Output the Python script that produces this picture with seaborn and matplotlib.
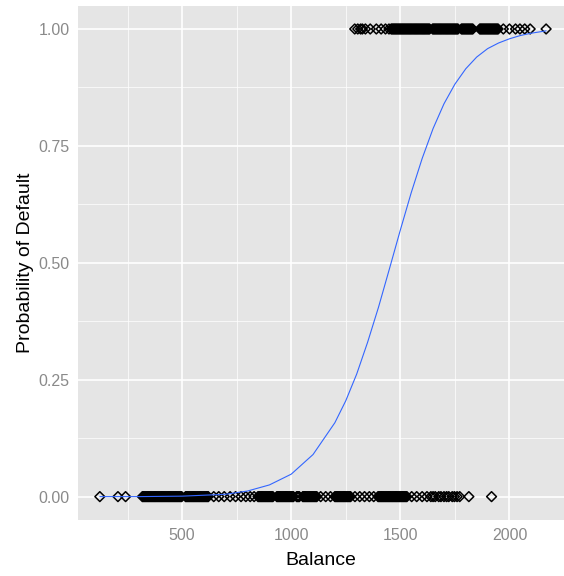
import matplotlib
matplotlib.use("Agg")
import matplotlib.pyplot as plt
import seaborn as sns
import pandas as pd

# Observed balances, split by default status (0 = no default, 1 = default)
balance_no_default = [
    123, 206, 241,
    318, 322, 326, 330, 334, 338, 342, 346, 350, 354, 358, 362, 366, 370, 374,
    378, 382, 386, 390, 394, 398, 402, 406, 410, 414, 418, 422, 426, 430, 434,
    438, 442, 446, 450, 454, 458, 462, 466, 470, 474, 478, 482, 486, 490, 494, 498,
    516, 520, 524, 528, 532, 536, 540, 544, 548, 552, 556, 560, 564, 568, 572,
    576, 580, 584, 588, 592, 596, 600, 604, 608, 612, 616, 620,
    645, 668, 693, 720, 745, 770, 792, 812, 830,
    848, 852, 856, 860, 864, 868, 872, 876, 880, 884, 888, 892, 896, 900, 904,
    908, 912, 916,
    934, 938, 942, 946, 950, 954, 958, 962, 966, 970, 974, 978, 982, 986, 990,
    994, 998, 1002, 1006, 1010,
    1025, 1029, 1033, 1037,
    1053, 1057, 1061, 1065, 1069, 1073, 1077, 1081, 1085, 1089, 1093, 1097, 1101,
    1105, 1109, 1113, 1117,
    1135, 1158, 1180,
    1200, 1204, 1208, 1212, 1216, 1220, 1224, 1228, 1232, 1236, 1240, 1244, 1248,
    1252, 1256, 1260, 1264, 1268, 1272,
    1292, 1314, 1336, 1358, 1378,
    1398, 1402, 1406, 1410, 1414, 1418, 1422, 1426, 1430, 1434, 1438, 1442, 1446,
    1450, 1454, 1458, 1462, 1466, 1470, 1474, 1478, 1482, 1486, 1490, 1494, 1498,
    1502, 1506, 1510, 1514, 1518, 1522, 1526, 1530,
    1552, 1575, 1600, 1622,
    1640, 1650, 1660, 1676, 1686, 1700, 1712, 1722, 1738, 1748, 1760, 1772,
    1814, 1918,
]
balance_default = [
    1291, 1305, 1318, 1326, 1340, 1362, 1390, 1412, 1432, 1448,
    1458, 1462, 1466, 1470, 1474, 1478, 1482, 1486, 1490, 1494, 1498, 1502, 1506,
    1510, 1514, 1518, 1522, 1526, 1530, 1534, 1538, 1542, 1546, 1550, 1554, 1558,
    1562, 1566, 1570, 1574, 1578, 1582, 1586, 1590, 1594, 1598, 1602, 1606, 1610,
    1614, 1618, 1622, 1626, 1630, 1634,
    1648, 1652, 1656, 1660, 1664, 1668, 1672, 1676, 1680, 1684, 1688, 1692, 1696,
    1700, 1704, 1708, 1712, 1716, 1720, 1724, 1728, 1732, 1736, 1740, 1744, 1748,
    1752, 1756, 1760, 1764,
    1780, 1784, 1788, 1792, 1796, 1800, 1804, 1808, 1812, 1816, 1820, 1824, 1828,
    1832,
    1864, 1868, 1872, 1876, 1880, 1884, 1888, 1892, 1896, 1900, 1904, 1908, 1912,
    1916, 1920, 1924, 1928, 1932, 1936, 1940, 1944, 1948,
    1972, 2000, 2028, 2048, 2070, 2095, 2168,
]

# Fitted logistic probability of default along the balance range
curve_balance = [123, 300, 500, 700, 800, 900, 1000, 1100, 1200, 1250, 1300, 1350,
                 1400, 1450, 1500, 1550, 1600, 1650, 1700, 1750, 1800, 1850, 1900,
                 1950, 2000, 2050, 2100, 2168]
curve_prob = [0.000, 0.000, 0.001, 0.005, 0.012, 0.025, 0.048, 0.090, 0.158, 0.205,
              0.262, 0.330, 0.405, 0.487, 0.570, 0.650, 0.723, 0.787, 0.840, 0.882,
              0.915, 0.940, 0.958, 0.970, 0.979, 0.986, 0.991, 0.996]

x_ticks = [500, 1000, 1500, 2000]
y_ticks = [0.00, 0.25, 0.50, 0.75, 1.00]
y_tick_labels = ["0.00", "0.25", "0.50", "0.75", "1.00"]

points = pd.DataFrame({
    "balance": balance_no_default + balance_default,
    "default": [0] * len(balance_no_default) + [1] * len(balance_default),
})
curve = pd.DataFrame({"balance": curve_balance, "prob": curve_prob})

sns.set_theme(style="darkgrid", rc={
    "axes.facecolor": "#E5E5E5",
    "figure.facecolor": "white",
    "grid.color": "white",
    "axes.edgecolor": "none",
})
plt.rcParams["font.family"] = ["Liberation Sans", "DejaVu Sans"]

fig = plt.figure(figsize=(5.64, 5.76), dpi=100)
ax = fig.add_axes([78 / 564, 56 / 576, 1 - 78 / 564, (520 - 5.6) / 576])

sns.scatterplot(data=points, x="balance", y="default", ax=ax, marker="D",
                s=25, facecolor="none", edgecolor="black", linewidth=1.1,
                zorder=3, legend=False)
sns.lineplot(data=curve, x="balance", y="prob", ax=ax, color="#3366FF",
             linewidth=0.8, zorder=4)

ax.set_xlim(23, 2222)
ax.set_ylim(-0.05, 1.05)
ax.set_xticks(x_ticks)
ax.set_xticklabels([str(t) for t in x_ticks])
ax.set_yticks(y_ticks)
ax.set_yticklabels(y_tick_labels)
ax.set_xticks([250, 750, 1250, 1750, 2250], minor=True)
ax.set_yticks([0.125, 0.375, 0.625, 0.875], minor=True)
ax.grid(which="major", color="white", linewidth=1.2)
ax.grid(which="minor", color="white", linewidth=0.5)
ax.set_axisbelow(True)

ax.tick_params(axis="both", which="major", length=3.6, width=0.8, color="#7F7F7F",
               labelcolor="#8A8A8A", labelsize=11.5, pad=2.5)
ax.tick_params(axis="both", which="minor", length=0)

ax.set_xlabel("Balance", fontsize=14, color="black", labelpad=6)
ax.set_ylabel("Probability of Default", fontsize=14, color="black")
ax.yaxis.set_label_coords(-0.09, 0.5)

fig.savefig("out.png", dpi=100)
